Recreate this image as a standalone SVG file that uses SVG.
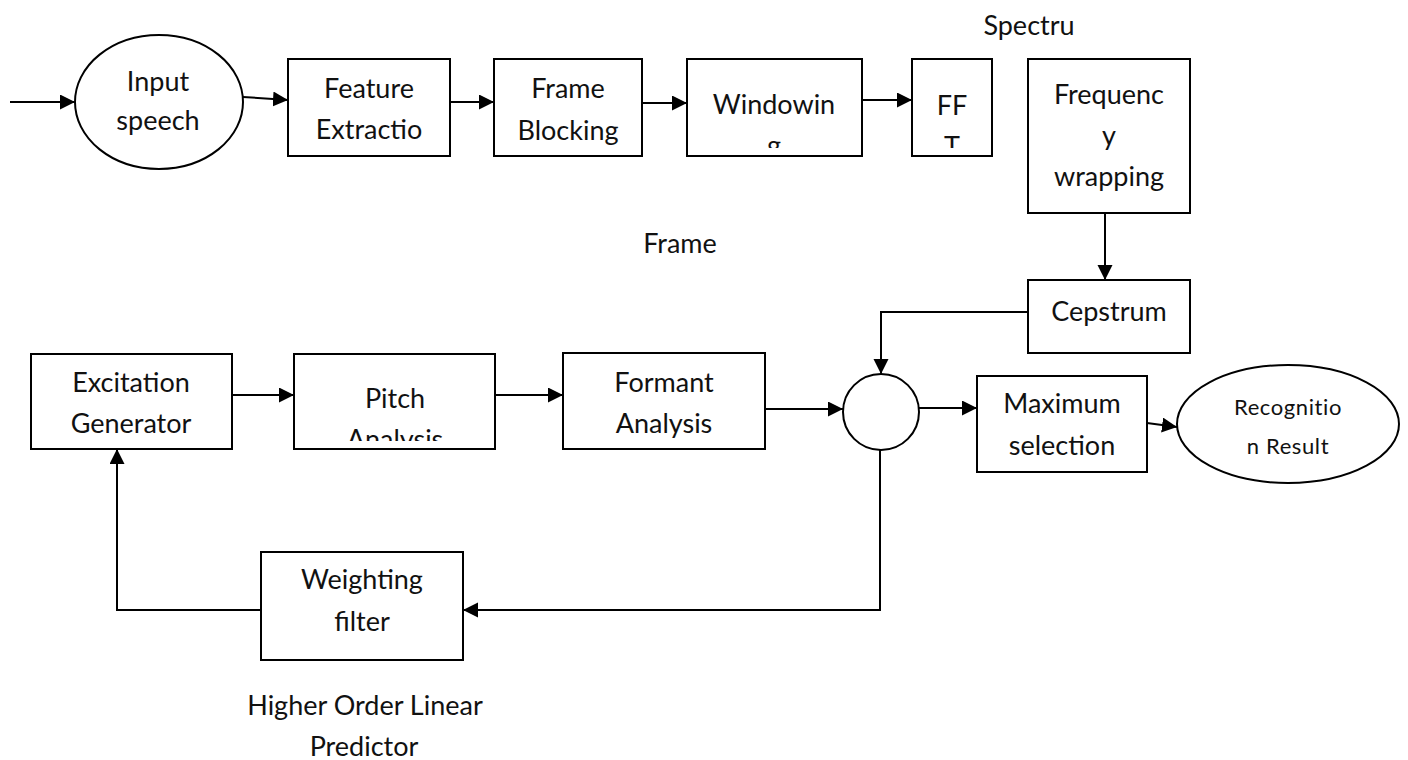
<svg xmlns="http://www.w3.org/2000/svg" width="1408" height="760" viewBox="0 0 1408 760">
<style>
  .box { fill: #fff; stroke: #000; stroke-width: 2; }
  .t { font-family: Lato, "Liberation Sans", sans-serif; font-size: 27px; fill: #111; text-anchor: middle; }
  .ts { font-family: Lato, "Liberation Sans", sans-serif; font-size: 22px; fill: #111; text-anchor: middle; letter-spacing: 0.6px; }
  .c { fill: none; stroke: #000; stroke-width: 2; }
  .a { marker-end: url(#ah); }
</style>
<defs>
  <marker id="ah" markerUnits="userSpaceOnUse" markerWidth="16" markerHeight="16" refX="15" refY="7.5" orient="auto">
    <path d="M0,0 L15,7.5 L0,15 Z" fill="#000"/>
  </marker>
  <clipPath id="clipWin"><rect x="687" y="59" width="175" height="89"/></clipPath>
  <clipPath id="clipFFT"><rect x="912" y="59" width="80" height="89"/></clipPath>
  <clipPath id="clipPitch"><rect x="294" y="354" width="201" height="87"/></clipPath>
</defs>
<rect width="1408" height="760" fill="#fff"/>

<g id="connectors">
  <line class="c a" x1="10" y1="102" x2="75" y2="102"/>
  <line class="c a" x1="243" y1="97" x2="288" y2="100"/>
  <line class="c a" x1="450" y1="102" x2="494" y2="102"/>
  <line class="c a" x1="642" y1="103" x2="687" y2="103"/>
  <line class="c a" x1="862" y1="100" x2="912" y2="100"/>
  <line class="c a" x1="1105" y1="213" x2="1105" y2="280"/>
  <polyline class="c a" points="1028,312 881,312 881,374"/>
  <line class="c a" x1="232" y1="395" x2="294" y2="395"/>
  <line class="c a" x1="495" y1="395" x2="563" y2="395"/>
  <line class="c a" x1="765" y1="409" x2="843" y2="409"/>
  <line class="c a" x1="919" y1="408" x2="977" y2="408"/>
  <line class="c a" x1="1147" y1="423" x2="1177" y2="427"/>
  <polyline class="c a" points="880,450 880,610 463,610"/>
  <polyline class="c a" points="261,610 117,610 117,449"/>
</g>

<g id="input-speech">
  <ellipse class="box" cx="159" cy="102" rx="84" ry="67"/>
  <text class="t" x="158" y="91">Input</text>
  <text class="t" x="158" y="130">speech</text>
</g>

<g id="feature-extraction">
  <rect class="box" x="288" y="59" width="162" height="97"/>
  <text class="t" x="369" y="98">Feature</text>
  <text class="t" x="369" y="139">Extractio</text>
</g>

<g id="frame-blocking">
  <rect class="box" x="494" y="59" width="148" height="97"/>
  <text class="t" x="568" y="98">Frame</text>
  <text class="t" x="568" y="140">Blocking</text>
</g>

<g id="windowing">
  <rect class="box" x="687" y="59" width="175" height="97"/>
  <g clip-path="url(#clipWin)">
    <text class="t" x="774" y="114">Windowin</text>
    <text class="t" x="774" y="155">g</text>
  </g>
</g>

<g id="fft">
  <rect class="box" x="912" y="59" width="80" height="97"/>
  <g clip-path="url(#clipFFT)">
    <text class="t" x="952" y="115">FF</text>
    <text class="t" x="952" y="156">T</text>
  </g>
</g>

<g id="label-spectru">
  <text class="t" x="1029" y="35">Spectru</text>
</g>

<g id="frequency-wrapping">
  <rect class="box" x="1028" y="59" width="162" height="154"/>
  <text class="t" x="1109" y="104">Frequenc</text>
  <text class="t" x="1109" y="145">y</text>
  <text class="t" x="1109" y="186">wrapping</text>
</g>

<g id="label-frame">
  <text class="t" x="680" y="253">Frame</text>
</g>

<g id="cepstrum">
  <rect class="box" x="1028" y="280" width="162" height="73"/>
  <text class="t" x="1109" y="321">Cepstrum</text>
</g>

<g id="excitation-generator">
  <rect class="box" x="31" y="354" width="201" height="95"/>
  <text class="t" x="131" y="392">Excitation</text>
  <text class="t" x="131" y="433">Generator</text>
</g>

<g id="pitch-analysis">
  <rect class="box" x="294" y="354" width="201" height="95"/>
  <g clip-path="url(#clipPitch)">
    <text class="t" x="395" y="408">Pitch</text>
    <text class="t" x="395" y="449">Analysis</text>
  </g>
</g>

<g id="formant-analysis">
  <rect class="box" x="563" y="353" width="202" height="96"/>
  <text class="t" x="664" y="392">Formant</text>
  <text class="t" x="664" y="433">Analysis</text>
</g>

<g id="summing-node">
  <circle class="box" cx="881" cy="412" r="38"/>
</g>

<g id="maximum-selection">
  <rect class="box" x="977" y="376" width="170" height="96"/>
  <text class="t" x="1062" y="413">Maximum</text>
  <text class="t" x="1062" y="455">selection</text>
</g>

<g id="recognition-result">
  <ellipse class="box" cx="1288" cy="424" rx="111" ry="59"/>
  <text class="ts" x="1288" y="415">Recognitio</text>
  <text class="ts" x="1288" y="454">n Result</text>
</g>

<g id="weighting-filter">
  <rect class="box" x="261" y="552" width="202" height="108"/>
  <text class="t" x="362" y="589">Weighting</text>
  <text class="t" x="362" y="631">filter</text>
</g>

<g id="label-hoLP">
  <text class="t" x="365" y="715">Higher Order Linear</text>
  <text class="t" x="364" y="756">Predictor</text>
</g>
</svg>
